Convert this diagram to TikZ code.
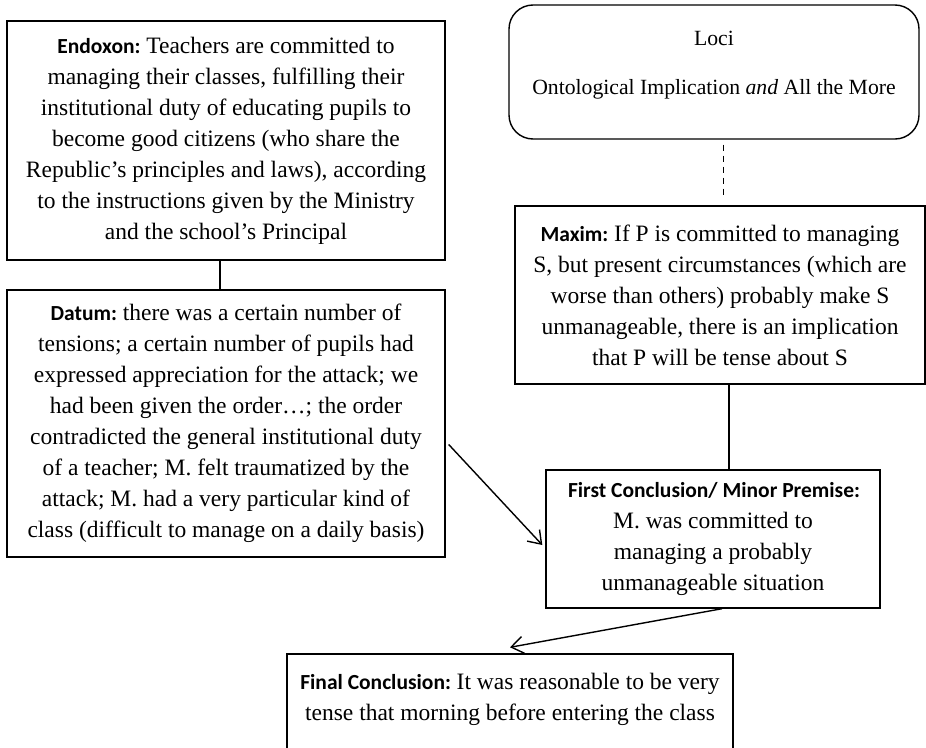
\documentclass[tikz,border=0pt]{standalone}
\usepackage{fontspec}
\setmainfont{Liberation Serif}
\newfontfamily\calibrifont{Carlito}
\usetikzlibrary{arrows.meta, positioning}
\newcommand{\boxlabel}[1]{{\calibrifont\bfseries\fontsize{21.5}{31}\selectfont #1}\kern-2pt\relax}
\tikzset{
  every picture/.style={line width=1.4pt},
  box/.style={draw, align=center, inner sep=0pt, font=\fontsize{23.5}{31}\selectfont},
  loci/.style={box, rounded corners=24pt, font=\fontsize{21.7}{31}\selectfont},
  link/.style={draw, line width=1.4pt},
  arrow/.style={-{Straight Barb[length=12pt, width=17pt]}, line width=1.4pt},
}

\begin{document}
\begin{tikzpicture}[x=1pt, y=-1pt]
  \useasboundingbox (0,0) rectangle (926,747);
  \node[box, minimum width=438pt, minimum height=239pt] (endoxon) at (226,140.5)
    {\boxlabel{Endoxon:} Teachers are committed to\\
     managing their classes, fulfilling their\\
     institutional duty of educating pupils to\\
     become good citizens (who share the\\
     Republic’s principles and laws), according\\
     to the instructions given by the Ministry\\
     and the school’s Principal};
  \node[box, minimum width=438pt, minimum height=267pt] (datum) at (226,423.5)
    {\boxlabel{Datum:} there was a certain number of\\
     tensions; a certain number of pupils had\\
     expressed appreciation for the attack; we\\
     had been given the order…; the order\\
     contradicted the general institutional duty\\
     of a teacher; M. felt traumatized by the\\
     attack; M. had a very particular kind of\\
     class (difficult to manage on a daily basis)};
  \node[loci, minimum width=410pt, minimum height=134pt] (loci) at (714,72)
    {Loci\\[18pt]
     Ontological Implication \emph{and} All the More\\[-12pt]\mbox{}};
  \node[box, minimum width=410pt, minimum height=178pt] (maxim) at (720,295)
    {\boxlabel{Maxim:} If P is committed to managing\\
     S, but present circumstances (which are\\
     worse than others) probably make S\\
     unmanageable, there is an implication\\
     that P will be tense about S};
  \node[box, minimum width=334pt, minimum height=138pt] (fc) at (713,539)
    {\boxlabel{First Conclusion/ Minor Premise:}\\
     M. was committed to\\
     managing a probably\\
     unmanageable situation};
  \node[box, minimum width=446pt, minimum height=116pt] (final) at (510,712)
    {\boxlabel{Final Conclusion:} It was reasonable to be very\\
     tense that morning before entering the class\\
     \mbox{}};
  % connectors
  \draw[link] ([xshift=-6pt]endoxon.south) -- ([xshift=-6pt]datum.north);
  \draw[link, line width=1pt, dash pattern=on 6pt off 5pt] ([xshift=9pt, yshift=-5pt]loci.south) -- ([xshift=3pt, yshift=7pt]maxim.north);
  \draw[link] ([xshift=9pt]maxim.south) -- ([xshift=16pt]fc.north);
  \draw[arrow] ([xshift=3pt, yshift=-21pt]datum.east) -- ([xshift=-3pt, yshift=-6pt]fc.west);
  \draw[arrow] ([xshift=9pt]fc.south) -- ([yshift=6pt]final.north);
\end{tikzpicture}
\end{document}
